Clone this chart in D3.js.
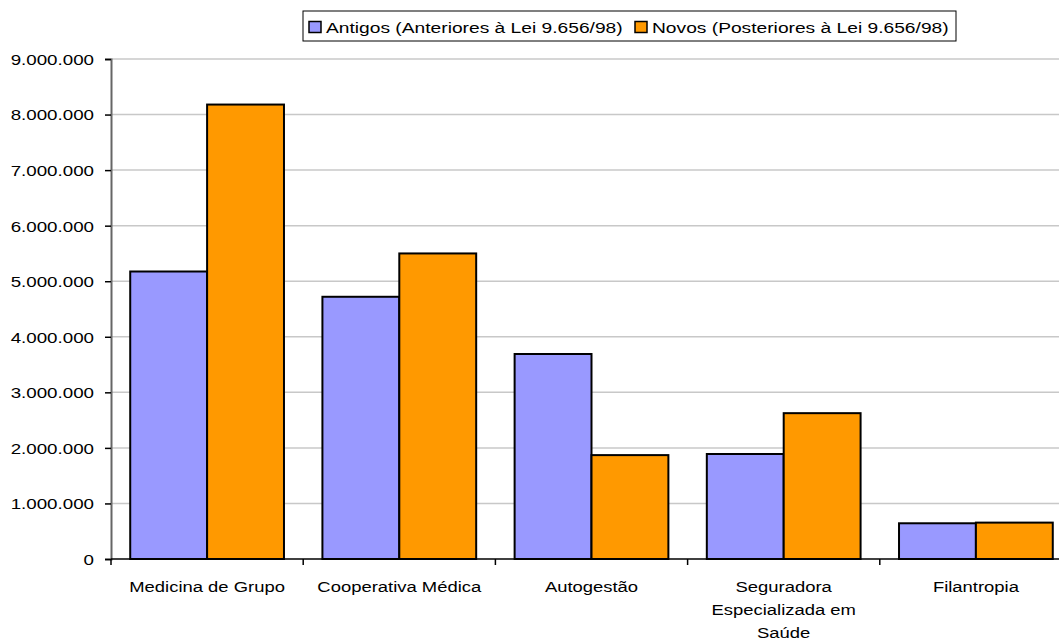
<!DOCTYPE html>
<html>
<head>
<meta charset="utf-8">
<script src="https://cdn.jsdelivr.net/npm/d3@7"></script>
<style>
  body { margin: 0; background: #fff; }
  text { font-family: "Liberation Sans", Arial, sans-serif; fill: #000; }
</style>
</head>
<body>
<svg id="chart" width="1059" height="641"></svg>
<script>
// categories and series
var categories = ["Medicina de Grupo", "Cooperativa Médica", "Autogestão", "Seguradora Especializada em Saúde", "Filantropia"];
var catLines = [["Medicina de Grupo"], ["Cooperativa Médica"], ["Autogestão"], ["Seguradora", "Especializada em", "Saúde"], ["Filantropia"]];
var seriesNames = ["Antigos (Anteriores à Lei 9.656/98)", "Novos (Posteriores à Lei 9.656/98)"];
var antigos = [5175000, 4720000, 3690000, 1890000, 643000];
var novos = [8180000, 5500000, 1870000, 2625000, 655000];
var yTicks = [0, 1000000, 2000000, 3000000, 4000000, 5000000, 6000000, 7000000, 8000000, 9000000];
var colors = ["#9999ff", "#ff9900"];

var svg = d3.select("#chart");
var plotLeft = 111, plotTop = 59, plotBottom = 559;
var catW = 192.2;
var plotRight = plotLeft + catW * categories.length;

var x = d3.scaleBand().domain(categories).range([plotLeft, plotRight]).paddingInner(0).paddingOuter(0);
var xs = d3.scaleBand().domain([0, 1]).range([0, x.bandwidth()]).paddingOuter(0.25).paddingInner(0);
var y = d3.scaleLinear().domain([0, 9000000]).range([plotBottom, plotTop]);

var fmt = function(v) { return d3.format(",")(v).replace(/,/g, "."); };
var fs = 15.5;
// text in the original is stretched horizontally
var sxAxis = 1.21, sxCat = 1.19, sxLegend = 1.24;

// gridlines
svg.append("g").selectAll("line").data(yTicks.slice(1)).join("line")
  .attr("x1", plotLeft).attr("x2", plotRight)
  .attr("y1", d => y(d)).attr("y2", d => y(d))
  .attr("stroke", "#c8c8c8").attr("stroke-width", 1.5);

// y axis
var yAxis = svg.append("g").attr("transform", "translate(" + plotLeft + ",0)")
  .call(d3.axisLeft(y).tickValues(yTicks).tickSize(6).tickPadding(9).tickFormat(fmt));
yAxis.select(".domain").attr("stroke", "#666").attr("stroke-width", 2);
yAxis.selectAll(".tick line").attr("stroke", "#000").attr("stroke-width", 1.5);
yAxis.selectAll(".tick text")
  .attr("font-size", fs).attr("dy", "0.35em")
  .attr("transform", "scale(" + sxAxis + ",1)")
  .attr("x", -17 / sxAxis);

// bars
var groups = svg.append("g").selectAll("g").data(categories).join("g")
  .attr("transform", d => "translate(" + x(d) + ",0)");
groups.selectAll("rect").data((d, i) => [antigos[i], novos[i]]).join("rect")
  .attr("x", (d, j) => xs(j))
  .attr("width", xs.bandwidth())
  .attr("y", d => y(d))
  .attr("height", d => plotBottom - y(d))
  .attr("fill", (d, j) => colors[j])
  .attr("stroke", "#000").attr("stroke-width", 2);

// x axis
svg.append("line").attr("x1", plotLeft).attr("x2", plotRight).attr("y1", plotBottom).attr("y2", plotBottom)
  .attr("stroke", "#000").attr("stroke-width", 1.5);
svg.append("g").selectAll("line").data(d3.range(categories.length + 1)).join("line")
  .attr("x1", i => plotLeft + i * catW).attr("x2", i => plotLeft + i * catW)
  .attr("y1", plotBottom).attr("y2", plotBottom + 6)
  .attr("stroke", "#000").attr("stroke-width", 1.5);

// category labels
catLines.forEach(function(lines, i) {
  var cx = x(categories[i]) + x.bandwidth() / 2;
  lines.forEach(function(t, k) {
    svg.append("text")
      .attr("transform", "translate(" + cx + "," + (592 + k * 23) + ") scale(" + sxCat + ",1)")
      .attr("text-anchor", "middle").attr("font-size", fs)
      .text(t);
  });
});

// legend
var lg = svg.append("g");
lg.append("rect").attr("x", 303).attr("y", 11).attr("width", 653).attr("height", 30)
  .attr("fill", "#fff").attr("stroke", "#000").attr("stroke-width", 1);
var legendX = [309, 635];
seriesNames.forEach(function(n, i) {
  lg.append("rect").attr("x", legendX[i]).attr("y", 21.5).attr("width", 12).attr("height", 11)
    .attr("fill", colors[i]).attr("stroke", "#000").attr("stroke-width", 1.5);
  lg.append("text")
    .attr("transform", "translate(" + (legendX[i] + 17) + ",33) scale(" + sxLegend + ",1)")
    .attr("font-size", fs).text(n);
});
</script>
</body>
</html>
